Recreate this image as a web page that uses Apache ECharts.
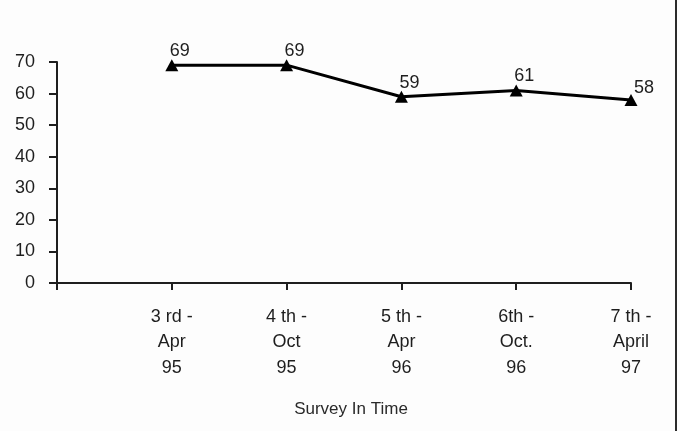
<!DOCTYPE html>
<html>
<head>
<meta charset="utf-8">
<script src="https://cdn.jsdelivr.net/npm/echarts@6/dist/echarts.min.js"></script>
<style>
  html, body { margin: 0; padding: 0; background: #fdfdfd; }
  #chart { width: 680px; height: 431px; }
</style>
</head>
<body>
<div id="chart"></div>
<script>
// Survey rounds (x axis) and the score recorded at each one
const surveys = ['3 rd -\nApr\n95', '4 th -\nOct\n95', '5 th -\nApr\n96', '6th -\nOct.\n96', '7 th -\nApril\n97'];
const scores = [69, 69, 59, 61, 58];
const yTicks = [0, 10, 20, 30, 40, 50, 60, 70];

const FONT = '"Liberation Sans", Arial, sans-serif';
const INK = '#1e1e1e';

// The axis opens with an empty slot so the first survey sits one step in from the origin
const axisCategories = [''].concat(surveys);
const axisValues = [null].concat(scores.map(function (v, i) {
  // the last reading's label sits up and to the right of its marker
  if (i === scores.length - 1) {
    return { value: v, label: { offset: [13, 5] } };
  }
  return v;
}));

const chart = echarts.init(document.getElementById('chart'), null, { renderer: 'canvas' });

chart.setOption({
  backgroundColor: '#fdfdfd',
  animation: false,
  grid: { left: 57, right: 49, top: 62, bottom: 148, containLabel: false },
  xAxis: {
    type: 'category',
    data: axisCategories,
    boundaryGap: false,
    axisLine: { lineStyle: { color: INK, width: 2 } },
    axisTick: { show: true, length: 7, lineStyle: { color: INK, width: 2 } },
    axisLabel: {
      color: INK, fontFamily: FONT, fontSize: 18, lineHeight: 25.5,
      margin: 21, interval: 0
    },
    splitLine: { show: false }
  },
  yAxis: {
    type: 'value',
    min: yTicks[0],
    max: yTicks[yTicks.length - 1],
    interval: yTicks[1] - yTicks[0],
    axisLine: { show: true, lineStyle: { color: INK, width: 2 } },
    axisTick: { show: true, length: 8, lineStyle: { color: INK, width: 2 } },
    axisLabel: { color: INK, fontFamily: FONT, fontSize: 18, margin: 22 },
    splitLine: { show: false }
  },
  series: [{
    type: 'line',
    data: axisValues,
    connectNulls: false,
    symbol: 'triangle',
    symbolSize: [13, 12],
    showAllSymbol: true,
    lineStyle: { color: '#000', width: 3 },
    itemStyle: { color: '#000' },
    label: {
      show: true,
      position: 'top',
      distance: 2,
      offset: [8, 3],
      color: INK,
      fontFamily: FONT,
      fontSize: 18
    }
  }],
  graphic: [
    {
      type: 'text',
      x: 351,
      y: 401,
      style: { text: 'Survey In Time', fill: '#2a2a2a', font: '17px ' + FONT, textAlign: 'center' }
    },
    {
      type: 'line',
      shape: { x1: 676, y1: 0, x2: 676, y2: 431 },
      style: { stroke: '#2b2b2b', lineWidth: 2 }
    }
  ]
});
</script>
</body>
</html>
